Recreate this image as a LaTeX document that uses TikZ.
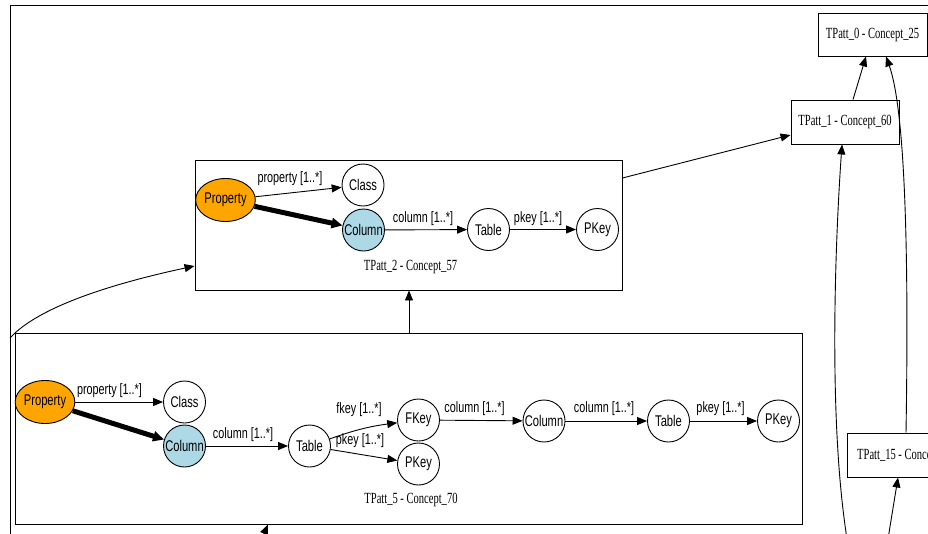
\documentclass[tikz,border=0pt]{standalone}
\usepackage{fontspec}
\setmainfont{Liberation Serif}
\newfontfamily\nsans[FakeStretch=0.72]{Liberation Sans}
\newfontfamily\nserif[FakeStretch=0.68]{Liberation Serif}
\usetikzlibrary{arrows.meta,shapes.geometric,calc}
\definecolor{porange}{RGB}{255,165,0}
\definecolor{lblue}{RGB}{173,216,230}
\begin{document}
\begin{tikzpicture}[x=1pt,y=-1pt,
  circ/.style={circle, draw, line width=0.9pt, minimum size=42pt, inner sep=0pt, font=\nsans\fontsize{15.5}{17}\selectfont},
  ell/.style={ellipse, draw, line width=0.9pt, fill=porange, minimum width=54pt, minimum height=43pt, inner sep=0pt, font=\nsans\fontsize{15.5}{17}\selectfont},
  box/.style={draw, line width=0.9pt, inner sep=0pt},
  blab/.style={font=\nserif\fontsize{15.5}{18}\selectfont, inner sep=0pt},
  elab/.style={font=\nsans\fontsize{15}{17}\selectfont, inner sep=0pt},
  arr/.style={-{Triangle[length=10pt,width=8pt]}, line width=0.9pt},
  thickarr/.style={-{Triangle[length=11pt,width=10pt]}, line width=5pt}]
\useasboundingbox (0,0) rectangle (928,533);
\clip (0,0) rectangle (928,533);
\fill[white] (0,0) rectangle (928,533);

% outer frame
\draw[line width=0.9pt] (930,5) -- (10,5) -- (10,540);

% cluster boxes
\node[box, minimum width=427pt, minimum height=130pt] (p2) at (408.5,225) {};
\node[blab] (p2lab) at (410.5,267) {TPatt\_2 - Concept\_57};
\node[box, minimum width=787pt, minimum height=191pt] (p5) at (408.5,428.5) {};
\node[blab] (p5lab) at (411,500) {TPatt\_5 - Concept\_70};

\node[box, blab, minimum width=108pt, minimum height=44pt] (p1) at (845,122) {TPatt\_1 - Concept\_60};
\node[box, blab, minimum width=109pt, minimum height=43pt] (p0) at (872.5,34.5) {TPatt\_0 - Concept\_25};
\node[box, minimum width=130pt, minimum height=44pt] (p15) at (912,455) {};
\node[blab, anchor=west] (p15lab) at (857,455) {TPatt\_15 - Conce};

% TPatt_2 contents
\node[ell] (prop2) at (225.5,200) {Property};
\node[circ] (class2) at (363,185) {Class};
\node[circ, fill=lblue] (col2) at (363.5,230) {Column};
\node[circ] (tab2) at (488.5,229.5) {Table};
\node[circ] (pk2) at (597.5,229.5) {PKey};

\draw[arr] (prop2) -- (class2);
\draw[thickarr] (prop2) -- (col2);
\draw[arr] (col2) -- (tab2);
\draw[arr] (tab2) -- (pk2);
\node[elab] (l21) at (290,179) {property [1..*]};
\node[elab] (l22) at (423,219) {column [1..*]};
\node[elab] (l23) at (538,219) {pkey [1..*]};

% TPatt_5 contents
\node[ell] (prop5) at (45,402) {Property};
\node[circ] (class5) at (184.5,402) {Class};
\node[circ, fill=lblue] (col5) at (184.5,446) {Column};
\node[circ] (tab5) at (309.5,446) {Table};
\node[circ] (fk5) at (418.5,420) {FKey};
\node[circ] (pk5) at (418.5,464) {PKey};
\node[circ] (col5b) at (544,421) {Column};
\node[circ] (tab5b) at (668.5,421) {Table};
\node[circ] (pk5b) at (778.5,421) {PKey};

\draw[arr] (prop5) -- (class5);
\draw[thickarr] (prop5) -- (col5);
\draw[arr] (col5) -- (tab5);
\draw[arr] (tab5) to[bend left=6] (fk5);
\draw[arr] (tab5) -- (pk5);
\draw[arr] (fk5) -- (col5b);
\draw[arr] (col5b) -- (tab5b);
\draw[arr] (tab5b) -- (pk5b);
\node[elab] (l51) at (109.5,391) {property [1..*]};
\node[elab] (l52) at (243,435) {column [1..*]};
\node[elab] (l53) at (359,410) {fkey [1..*]};
\node[elab] (l54) at (360,441) {pkey [1..*]};
\node[elab] (l55) at (474.5,409) {column [1..*]};
\node[elab] (l56) at (604,409) {column [1..*]};
\node[elab] (l57) at (720.5,409) {pkey [1..*]};

% edges between clusters
\coordinate (c1) at (848,545);
\coordinate (c2) at (887,545);
\coordinate (c3) at (259,545);
\coordinate (c4) at (10,338);

\draw[arr] (p5.north -| 409,0) -- (p2.south -| 409,0);
\draw[arr] (p2.east |- 0,178) -- (p1.west |- 0,135);
\draw[arr] (p1.north -| 853,0) -- (p0.south -| 866,0);
\draw[arr] (p15.north -| 906,0) .. controls (909,250) and (905,110) .. (p0.south -| 886,0);
\draw[arr] (c1) .. controls (827,420) and (836,230) .. (p1.south -| 842,0);
\draw[arr] (c2) -- (p15.south -| 898,0);
\draw[arr] (c3) -- (p5.south -| 268,0);
\draw[arr] (c4) .. controls (40,305) and (120,282) .. (p2.west |- 0,266);
\end{tikzpicture}
\end{document}
